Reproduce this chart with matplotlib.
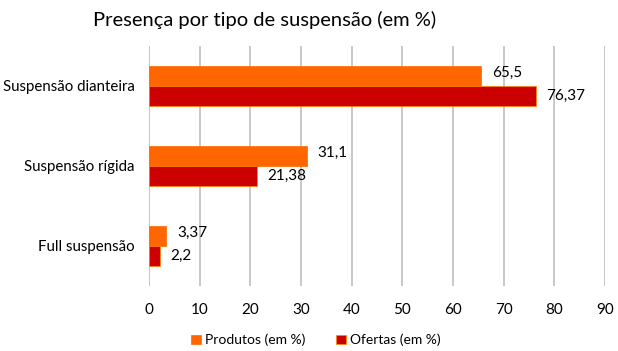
import matplotlib
matplotlib.use("Agg")
import matplotlib.pyplot as plt
import numpy as np

categorias = ["Suspensão dianteira", "Suspensão rígida", "Full suspensão"]
produtos = [65.5, 31.1, 3.37]
ofertas = [76.37, 21.38, 2.2]
rotulos_produtos = ["65,5", "31,1", "3,37"]
rotulos_ofertas = ["76,37", "21,38", "2,2"]
series = ["Produtos (em %)", "Ofertas (em %)"]

plt.rcParams['font.family'] = ['Lato', 'DejaVu Sans']

fig = plt.figure(figsize=(6.18, 3.51), dpi=100)
ax = fig.add_axes([149/618, 1-286/351, (605-149)/618, 240/351])

y = np.arange(len(categorias))
h = 0.25
laranja = '#FF6600'
vermelho = '#CC0000'
ax.barh(y - h/2, produtos, height=h, color=laranja, edgecolor=laranja, linewidth=0.5, label=series[0], zorder=3)
ax.barh(y + h/2, ofertas, height=h, color=vermelho, edgecolor='#FF8800', linewidth=0.5, label=series[1], zorder=3)

for yi, v, t in zip(y, produtos, rotulos_produtos):
    ax.annotate(t, (v, yi - h/2), xytext=(8, 2), textcoords='offset points',
                va='center', ha='left', fontsize=11)
for yi, v, t in zip(y, ofertas, rotulos_ofertas):
    ax.annotate(t, (v, yi + h/2), xytext=(7, 0), textcoords='offset points',
                va='center', ha='left', fontsize=11)

ax.set_xlim(0, 90)
ax.set_ylim(2.5, -0.5)
ax.set_xticks(np.arange(0, 91, 10))
ax.set_yticks(y)
ax.set_yticklabels(categorias, fontsize=10.8)
ax.tick_params(axis='x', labelsize=11, length=0, pad=12)
ax.tick_params(axis='y', length=0, pad=10.5)
ax.grid(axis='x', color='#BFBFBF', linewidth=1.2, zorder=0)
for s in ax.spines.values():
    s.set_visible(False)

fig.text(265/618, 1-20/351, "Presença por tipo de suspensão (em %)", fontsize=14.5,
         ha='center', va='center')
fig.legend(loc='center', bbox_to_anchor=(316/618, 1-340/351), ncol=2, frameon=False,
           fontsize=10, handlelength=0.7, handleheight=0.7, handletextpad=0.3, columnspacing=2.2)

fig.savefig("out.png", dpi=100)
